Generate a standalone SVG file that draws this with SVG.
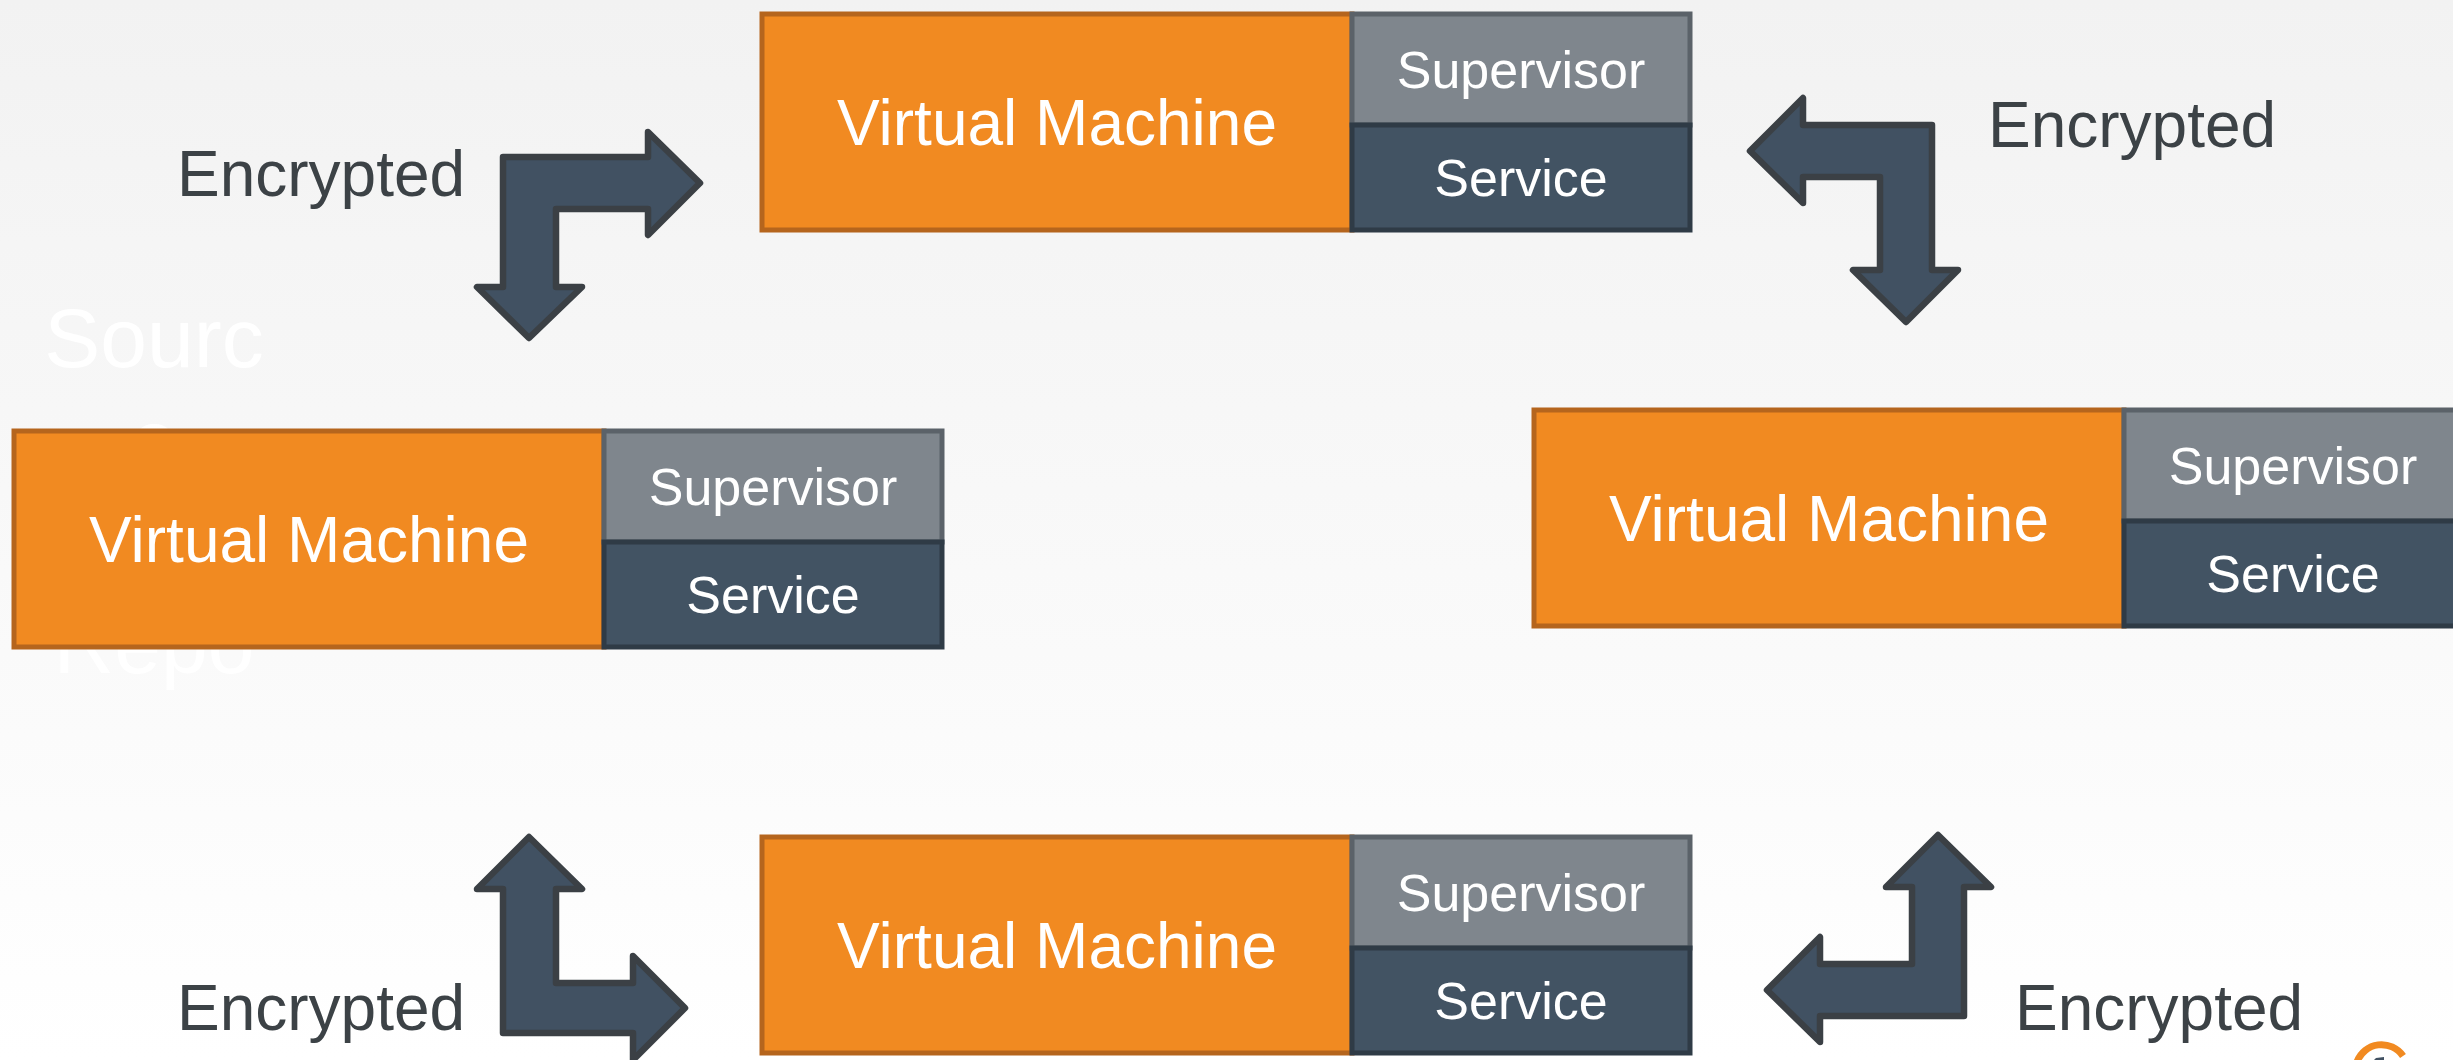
<svg xmlns="http://www.w3.org/2000/svg" width="2453" height="1060" viewBox="0 0 2453 1060">
<defs>
<linearGradient id="bg" x1="0" y1="0" x2="0" y2="1">
<stop offset="0" stop-color="#f2f2f2"/>
<stop offset="1" stop-color="#ffffff"/>
</linearGradient>
<style>
.vm{fill:#f18a21;stroke:#b5651d;stroke-width:5}
.sup{fill:#7f868d;stroke:#5b6269;stroke-width:5}
.svc{fill:#425363;stroke:#2f3b46;stroke-width:5}
.vmt{font-family:"Liberation Sans",Arial,sans-serif;font-size:64px;fill:#ffffff;text-anchor:middle}
.st{font-family:"Liberation Sans",Arial,sans-serif;font-size:52px;fill:#ffffff;text-anchor:middle}
.enc{font-family:"Liberation Sans",Arial,sans-serif;font-size:64px;fill:#3c4246}
.src{font-family:"Liberation Sans",Arial,sans-serif;font-size:84px;fill:#ffffff;text-anchor:middle}
.arr{fill:#415162;stroke:#3b4045;stroke-width:6.5;stroke-linejoin:round}
</style>
</defs>
<rect x="0" y="0" width="2453" height="1060" fill="url(#bg)"/>
<g id="source-repo-label">
<text class="src" x="154" y="367">Sourc</text>
<text class="src" x="154" y="469">e</text>
<text class="src" x="154" y="673">Repo</text>
</g>
<g id="vm-top" transform="translate(762,14)">
<rect class="vm" x="0" y="0" width="590" height="216"/>
<rect class="sup" x="590" y="0" width="338" height="111"/>
<rect class="svc" x="590" y="111" width="338" height="105"/>
<text class="vmt" x="295" y="131">Virtual Machine</text>
<text class="st" x="759" y="74">Supervisor</text>
<text class="st" x="759" y="182">Service</text>
</g>
<g id="vm-left" transform="translate(14,431)">
<rect class="vm" x="0" y="0" width="590" height="216"/>
<rect class="sup" x="590" y="0" width="338" height="111"/>
<rect class="svc" x="590" y="111" width="338" height="105"/>
<text class="vmt" x="295" y="131">Virtual Machine</text>
<text class="st" x="759" y="74">Supervisor</text>
<text class="st" x="759" y="182">Service</text>
</g>
<g id="vm-right" transform="translate(1534,410)">
<rect class="vm" x="0" y="0" width="590" height="216"/>
<rect class="sup" x="590" y="0" width="338" height="111"/>
<rect class="svc" x="590" y="111" width="338" height="105"/>
<text class="vmt" x="295" y="131">Virtual Machine</text>
<text class="st" x="759" y="74">Supervisor</text>
<text class="st" x="759" y="182">Service</text>
</g>
<g id="vm-bottom" transform="translate(762,837)">
<rect class="vm" x="0" y="0" width="590" height="216"/>
<rect class="sup" x="590" y="0" width="338" height="111"/>
<rect class="svc" x="590" y="111" width="338" height="105"/>
<text class="vmt" x="295" y="131">Virtual Machine</text>
<text class="st" x="759" y="74">Supervisor</text>
<text class="st" x="759" y="182">Service</text>
</g>
<g id="connectors">
<polygon class="arr" points="503,157 648,157 648,132 700,183 648,235 648,209 556,209 556,287 582,287 529,338 477,287 503,287"/>
<polygon class="arr" points="1932,125 1932,270 1958,270 1906,322 1853,270 1880,270 1880,177 1803,177 1803,203 1750,151 1803,98 1803,125"/>
<polygon class="arr" points="503,1033 503,889 477,889 529,837 582,889 556,889 556,983 633,983 633,956 685,1008 633,1060 633,1033"/>
<polygon class="arr" points="1964,1016 1820,1016 1820,1042 1767,990 1820,937 1820,964 1912,964 1912,887 1886,887 1938,835 1991,887 1964,887"/>
</g>
<g id="labels">
<text class="enc" x="177" y="196">Encrypted</text>
<text class="enc" x="1988" y="147">Encrypted</text>
<text class="enc" x="177" y="1030">Encrypted</text>
<text class="enc" x="2015" y="1030">Encrypted</text>
</g>
<g id="logo">
<path d="M2357,1062 A26,26 0 0 1 2403,1056" fill="none" stroke="#f18a21" stroke-width="7"/>
<path d="M2372,1062 L2376,1058 L2384,1057 L2384,1062 Z" fill="#415162"/>
</g>
</svg>
